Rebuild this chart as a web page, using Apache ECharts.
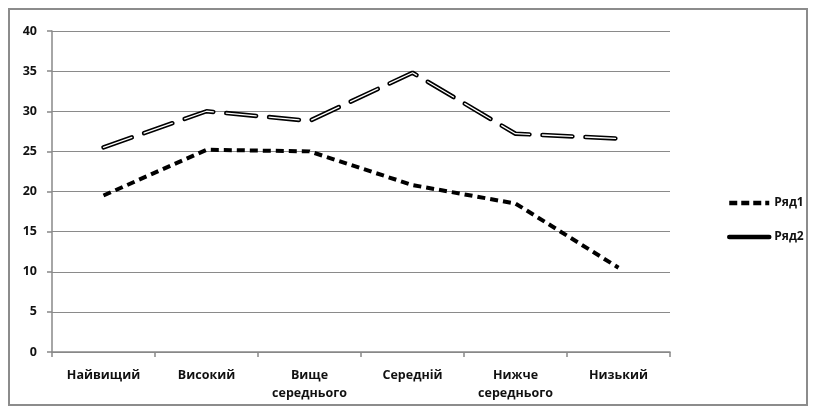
<!DOCTYPE html>
<html><head><meta charset="utf-8">
<script src="https://cdn.jsdelivr.net/npm/echarts@6/dist/echarts.min.js"></script>
<style>html,body{margin:0;padding:0;background:#fff}#c{width:815px;height:416px;}
#frame{position:absolute;left:8px;top:8px;width:800px;height:398px;border:2px solid #8c8c8c;box-sizing:border-box;pointer-events:none}</style>
</head><body><div id="c"></div><div id="frame"></div>
<script>
const categories = ['Найвищий', 'Високий', 'Вище\nсереднього', 'Середній', 'Нижче\nсереднього', 'Низький'];
const seriesNames = ['Ряд1', 'Ряд2'];
const ryad1 = [19.5, 25.2, 25.0, 20.8, 18.5, 10.5];
const ryad2 = [25.5, 30.0, 28.8, 34.8, 27.2, 26.6];
const yTicks = { min: 0, max: 40, interval: 5 };

const font = 'Open Sans';
const chart = echarts.init(document.getElementById('c'));
chart.setOption({
  animation: false,
  grid: { left: 52, top: 31, right: 145, bottom: 64 },
  legend: {
    orient: 'vertical', left: 722, top: 192, itemGap: 22, itemWidth: 40, itemHeight: 10,
    itemStyle: { opacity: 0 },
    textStyle: { fontFamily: font, fontWeight: 'bold', fontSize: 12, color: '#111' },
    data: [
      { name: 'Ряд1', itemStyle: { opacity: 0 }, lineStyle: { type: [8, 4], width: 4.5, color: '#000' } },
      { name: 'Ряд2', itemStyle: { opacity: 0 }, lineStyle: { type: 'solid', width: 4.5, color: '#000' } }
    ]
  },
  xAxis: {
    type: 'category', data: categories, boundaryGap: true,
    axisLine: { lineStyle: { color: '#888', width: 1.5 } },
    axisTick: { show: true, length: 5, lineStyle: { color: '#888', width: 1.5 } },
    axisLabel: { fontFamily: font, fontWeight: 'bold', fontSize: 12.5, color: '#111', margin: 14, lineHeight: 18, interval: 0 }
  },
  yAxis: {
    type: 'value', min: yTicks.min, max: yTicks.max, interval: yTicks.interval,
    axisLine: { show: true, lineStyle: { color: '#888', width: 1.5 } },
    axisTick: { show: true, length: 5, lineStyle: { color: '#888', width: 1.5 } },
    splitLine: { lineStyle: { color: '#8a8a8a', width: 1.2 } },
    axisLabel: { fontFamily: font, fontWeight: 'bold', fontSize: 12.5, color: '#111', margin: 15 }
  },
  series: [
    { name: seriesNames[0], type: 'line', data: ryad1, symbol: 'none',
      lineStyle: { color: '#000', width: 4, type: [8, 5], cap: 'butt' }, z: 3 },
    { name: seriesNames[1], type: 'line', data: ryad2, symbol: 'none',
      lineStyle: { color: '#000', width: 4.5, type: [30, 13], cap: 'round' }, z: 3 },
    { name: seriesNames[1] + '_core', type: 'line', data: ryad2, symbol: 'none', silent: true,
      lineStyle: { color: '#fff', width: 1.3, type: [30, 13], cap: 'round' }, z: 4 }
  ]
});
</script></body></html>
